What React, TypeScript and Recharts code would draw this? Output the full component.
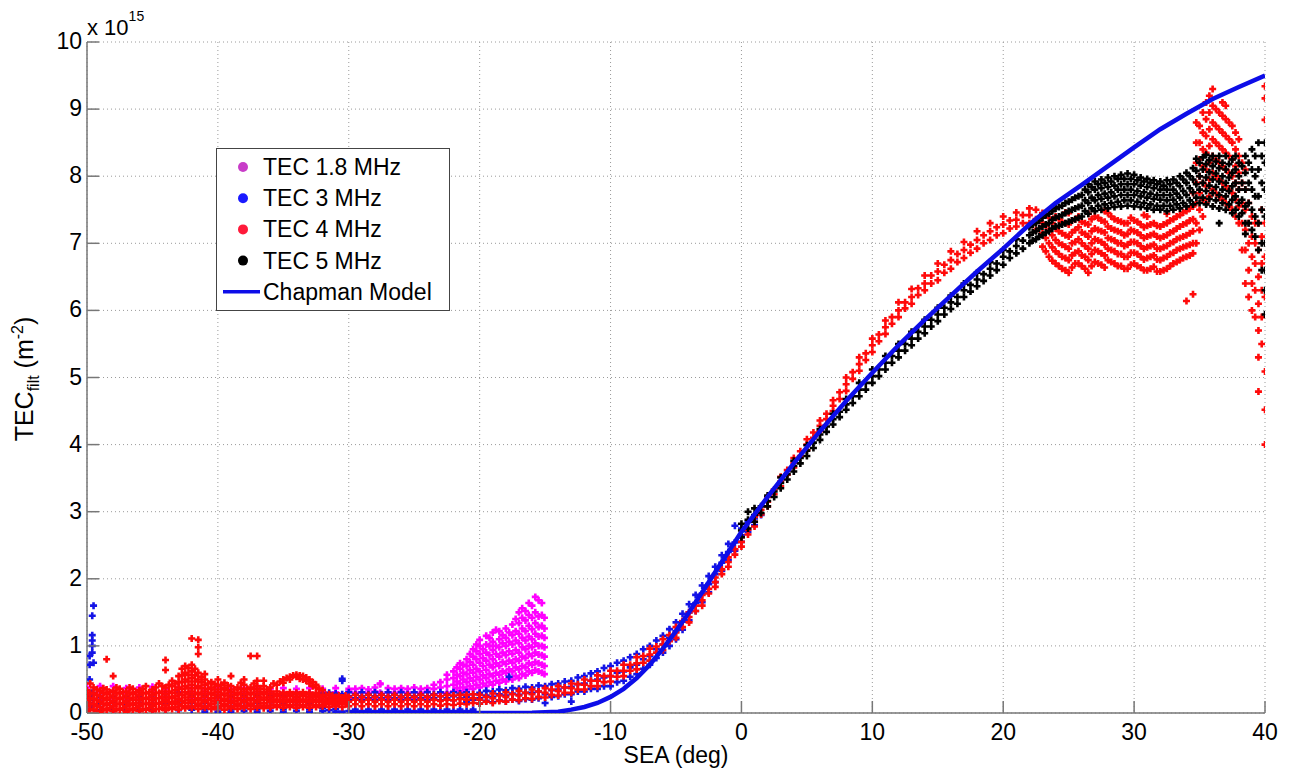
import React from 'react';
import { ScatterChart, Scatter, XAxis, YAxis, CartesianGrid, Legend, Customized } from 'recharts';

const FONT = '"Liberation Sans", Arial, Helvetica, sans-serif';

const xTicks = [-50, -40, -30, -20, -10, 0, 10, 20, 30, 40];
const yTicks = [0, 1, 2, 3, 4, 5, 6, 7, 8, 9, 10];

const seriesNames = ['TEC 1.8 MHz', 'TEC 3 MHz', 'TEC 4 MHz', 'TEC 5 MHz', 'Chapman Model'];
const seriesColors = ['#ff00ff', '#1414e6', '#ff0a0a', '#000000', '#0d0de8'];
const legendMarkColors = ['#c83cc8', '#1a1aff', '#ff1a3a', '#000000', '#0d0de8'];

const chapmanX = [-30, -25, -20, -18, -16, -14, -13, -12, -11, -10, -9, -8, -7, -6, -5, -4, -3, -2, -1, 0, 2, 4, 6, 8, 10, 12, 14, 16, 18, 20, 22, 24, 26, 28, 30, 32, 34, 36, 38, 40];
const chapmanY = [0, 0, 0, 0, 0.005, 0.02, 0.05, 0.09, 0.15, 0.24, 0.36, 0.52, 0.72, 0.96, 1.22, 1.5, 1.8, 2.1, 2.4, 2.7, 3.22, 3.72, 4.2, 4.65, 5.07, 5.48, 5.86, 6.22, 6.58, 6.92, 7.28, 7.6, 7.87, 8.15, 8.43, 8.7, 8.93, 9.15, 9.33, 9.5];

type Col = [number, number[]];

// TEC 1.8 MHz
const tec18Cols: Col[] = [
  [-50, [0.22, 0.31, 0.38]], [-49, [0.2, 0.32, 0.4]], [-48, [0.22, 0.33, 0.4]], [-47, [0.2, 0.3, 0.37]],
  [-46, [0.22, 0.31, 0.38]], [-45, [0.2, 0.32, 0.39]], [-44, [0.22, 0.3, 0.36]], [-43, [0.2, 0.31, 0.38]],
  [-42, [0.22, 0.3, 0.37]], [-41, [0.2, 0.3, 0.36]], [-40, [0.22, 0.31, 0.38]], [-39, [0.2, 0.3, 0.36]],
  [-38, [0.22, 0.3, 0.37]], [-37, [0.2, 0.31, 0.38]], [-36, [0.22, 0.3, 0.36]], [-35, [0.2, 0.3, 0.37]],
  [-34, [0.22, 0.31, 0.36]], [-33, [0.2, 0.3, 0.37]], [-32, [0.22, 0.31, 0.36]], [-31, [0.2, 0.31, 0.37]],
  [-30, [0.22, 0.32, 0.36]], [-29.5, [0.3, 0.36]], [-29, [0.22, 0.31, 0.37]], [-28.5, [0.3, 0.35]],
  [-28, [0.22, 0.32, 0.38]], [-27.6, [0.3, 0.43, 0.44]], [-27, [0.22, 0.31, 0.37]], [-26.5, [0.3, 0.36]],
  [-26, [0.22, 0.32, 0.37]], [-25.5, [0.3, 0.36]], [-25, [0.22, 0.31, 0.38]], [-24.5, [0.3, 0.36]],
  [-24, [0.22, 0.32, 0.37]], [-23.5, [0.28, 0.36, 0.42]],
  [-23, [0.3, 0.38, 0.46]], [-22.5, [0.3, 0.4, 0.5, 0.57]], [-22, [0.32, 0.42, 0.52, 0.62]],
  [-21.75, [0.37, 0.47, 0.57, 0.68]], [-21.5, [0.33, 0.44, 0.55, 0.66, 0.74]], [-21.25, [0.38, 0.5, 0.6, 0.72]],
  [-21, [0.35, 0.46, 0.58, 0.7, 0.8]], [-20.75, [0.4, 0.52, 0.64, 0.76, 0.88]],
  [-20.5, [0.36, 0.48, 0.6, 0.72, 0.84, 0.95]], [-20.25, [0.42, 0.54, 0.66, 0.8, 0.92, 1.02]],
  [-20, [0.38, 0.5, 0.62, 0.75, 0.88, 1.0, 1.09]], [-19.75, [0.44, 0.56, 0.7, 0.82, 0.95]],
  [-19.5, [0.4, 0.52, 0.64, 0.78, 0.9, 1.02, 1.15]], [-19.25, [0.46, 0.58, 0.72, 0.86, 1.0, 1.12]],
  [-19, [0.42, 0.55, 0.68, 0.8, 0.94, 1.06, 1.2]], [-18.75, [0.48, 0.6, 0.74, 0.88, 1.0, 1.24]],
  [-18.5, [0.45, 0.57, 0.7, 0.84, 0.98, 1.1, 1.22]], [-18.25, [0.5, 0.62, 0.76, 0.9, 1.04, 1.16]],
  [-18, [0.47, 0.6, 0.73, 0.86, 1.0, 1.12, 1.26]], [-17.75, [0.52, 0.65, 0.78, 0.92, 1.06, 1.2]],
  [-17.5, [0.5, 0.62, 0.75, 0.88, 1.02, 1.16, 1.32]], [-17.25, [0.55, 0.68, 0.8, 0.94, 1.08, 1.22, 1.4]],
  [-17, [0.52, 0.65, 0.78, 0.9, 1.04, 1.18, 1.34, 1.5]], [-16.75, [0.58, 0.7, 0.84, 0.98, 1.12, 1.26, 1.42, 1.56]],
  [-16.5, [0.56, 0.68, 0.82, 0.95, 1.08, 1.22, 1.38, 1.52]], [-16.25, [0.62, 0.74, 0.88, 1.0, 1.14, 1.3, 1.46, 1.64]],
  [-16, [0.6, 0.72, 0.85, 0.98, 1.1, 1.25, 1.42, 1.6]], [-15.75, [0.64, 0.76, 0.9, 1.04, 1.18, 1.34, 1.5, 1.73]],
  [-15.5, [0.62, 0.74, 0.87, 1.0, 1.14, 1.28, 1.44, 1.68]], [-15.25, [0.6, 0.72, 0.86, 1.0, 1.15, 1.3, 1.46, 1.64]],
  [-15.05, [0.58, 0.7, 0.84, 0.98, 1.12, 1.26, 1.42]],
];

// TEC 3 MHz
const tec3Cols: Col[] = [
  [-49.8, [0.05, 0.15, 0.25, 0.5, 0.72, 0.85]], [-49.6, [0.1, 0.3, 0.9, 1.0, 1.08, 1.16, 1.45]], [-49.5, [0.2, 0.75, 1.6]],
  [-49, [0.04, 0.14, 0.24]], [-48, [0.05, 0.15, 0.25]], [-47, [0.04, 0.14, 0.24]], [-46, [0.05, 0.15, 0.25]],
  [-45, [0.04, 0.14, 0.26]], [-44, [0.05, 0.15, 0.28]], [-43, [0.04, 0.14, 0.3]], [-42, [0.05, 0.15, 0.27]],
  [-41, [0.02, 0.06, 0.15, 0.25]], [-40, [0.02, 0.07, 0.16, 0.26]], [-39, [0.02, 0.06, 0.15, 0.25]],
  [-38, [0.03, 0.07, 0.16, 0.26]], [-37, [0.02, 0.06, 0.15, 0.27]], [-36, [0.03, 0.07, 0.16, 0.26]],
  [-35, [0.02, 0.06, 0.15, 0.27]], [-34, [0.03, 0.07, 0.16, 0.28]], [-33, [0.02, 0.06, 0.15, 0.28]],
  [-32, [0.03, 0.07, 0.17, 0.29]], [-31.5, [0.04, 0.22, 0.3]], [-31, [0.02, 0.06, 0.2, 0.29]],
  [-30.5, [0.02, 0.2, 0.28, 0.48, 0.51]],
  [-30, [0.03, 0.19, 0.25, 0.31]], [-29.5, [0.05, 0.22, 0.28]], [-29, [0.03, 0.19, 0.25, 0.31]], [-28.5, [0.05, 0.22, 0.28]],
  [-28, [0.03, 0.19, 0.25, 0.31]], [-27.5, [0.05, 0.22, 0.28]], [-27, [0.03, 0.19, 0.25, 0.31]], [-26.5, [0.05, 0.22, 0.28]],
  [-26, [0.03, 0.19, 0.25, 0.31]], [-25.5, [0.05, 0.22, 0.28]], [-25, [0.03, 0.19, 0.25, 0.31]], [-24.5, [0.05, 0.22, 0.28]],
  [-24, [0.03, 0.19, 0.25, 0.31]], [-23.5, [0.05, 0.22, 0.28]], [-23, [0.03, 0.19, 0.25, 0.31]], [-22.5, [0.05, 0.22, 0.28]],
  [-22, [0.03, 0.19, 0.25, 0.31]], [-21.5, [0.05, 0.22, 0.29]], [-21, [0.03, 0.17, 0.24, 0.31]], [-20.5, [0.05, 0.2, 0.28]],
  [-20, [0.14, 0.22, 0.3]], [-19.5, [0.18, 0.26, 0.33]], [-19, [0.16, 0.24, 0.32]], [-18.5, [0.19, 0.28, 0.35]],
  [-18, [0.17, 0.26, 0.34]], [-17.75, [0.54]], [-17.5, [0.2, 0.29, 0.37]], [-17, [0.18, 0.27, 0.36]],
  [-16.5, [0.21, 0.3, 0.39]], [-16, [0.2, 0.3, 0.38]], [-15.5, [0.22, 0.32, 0.41]], [-15, [0.15, 0.28, 0.4]],
  [-14.5, [0.24, 0.34, 0.43]], [-14, [0.25, 0.35, 0.44]], [-13.5, [0.28, 0.38, 0.47]], [-13, [0.17, 0.28, 0.39, 0.48]],
  [-12.5, [0.32, 0.43, 0.53]], [-12, [0.32, 0.44, 0.55]], [-11.5, [0.36, 0.48, 0.59]], [-11, [0.36, 0.5, 0.62]],
  [-10.5, [0.4, 0.53, 0.67]], [-10, [0.4, 0.55, 0.7]], [-9.5, [0.46, 0.6, 0.75]], [-9, [0.48, 0.62, 0.78]],
  [-8.5, [0.54, 0.68, 0.83]], [-8, [0.58, 0.72, 0.88]], [-7.5, [0.66, 0.8, 0.95]], [-7, [0.72, 0.85, 1.0]],
  [-6.5, [0.82, 0.95, 1.08]], [-6, [0.9, 1.02, 1.15]], [-5.5, [1.0, 1.12, 1.25]], [-5, [1.1, 1.22, 1.35]],
  [-4.5, [1.24, 1.36, 1.48]], [-4, [1.38, 1.5, 1.62]], [-3.5, [1.52, 1.64, 1.76]], [-3, [1.65, 1.78, 1.9]],
  [-2.5, [1.8, 1.92, 2.04]], [-2, [1.95, 2.07, 2.18]], [-1.5, [2.12, 2.24, 2.35]], [-1, [2.28, 2.4, 2.52]],
  [-0.5, [2.42, 2.54, 2.79]], [0, [2.55, 2.65, 2.75]], [0.5, [2.7, 2.85]], [1, [2.8, 2.9]], [1.5, [2.95]],
];

// TEC 4 MHz
const tec4Cols: Col[] = [
  [-50, [0.02, 0.1, 0.18, 0.26, 0.34]], [-49.75, [0.06, 0.14, 0.22, 0.3, 0.44]], [-49.5, [0.05, 0.13, 0.21, 0.29, 0.38]],
  [-49.25, [0.03, 0.11, 0.19, 0.27, 0.35]], [-49, [0.02, 0.09, 0.17, 0.25, 0.33]], [-48.75, [0.06, 0.14, 0.22, 0.3, 0.37]],
  [-48.5, [0.04, 0.12, 0.2, 0.28, 0.35, 0.8]], [-48.25, [0.07, 0.15, 0.23, 0.31]],
  [-48, [0.03, 0.1, 0.18, 0.26, 0.33, 0.55]], [-47.75, [0.06, 0.14, 0.22, 0.3, 0.38]], [-47.5, [0.05, 0.13, 0.21, 0.29, 0.36]],
  [-47.25, [0.07, 0.15, 0.23, 0.31]], [-47, [0.02, 0.1, 0.18, 0.26, 0.32]], [-46.75, [0.06, 0.14, 0.22, 0.3, 0.38]],
  [-46.5, [0.04, 0.12, 0.2, 0.28, 0.36]], [-46.25, [0.07, 0.15, 0.23, 0.31]],
  [-46, [0.03, 0.11, 0.19, 0.27, 0.34]], [-45.75, [0.06, 0.14, 0.22, 0.3, 0.36]], [-45.5, [0.05, 0.13, 0.21, 0.29, 0.4]],
  [-45.25, [0.07, 0.15, 0.23, 0.31]], [-45, [0.03, 0.11, 0.19, 0.27, 0.35]], [-44.75, [0.06, 0.14, 0.22, 0.3, 0.38]],
  [-44.5, [0.06, 0.14, 0.22, 0.3, 0.44]], [-44.25, [0.08, 0.16, 0.24, 0.32, 0.4]],
  [-44, [0.04, 0.12, 0.2, 0.28, 0.38, 0.64, 0.79]], [-43.75, [0.08, 0.16, 0.24, 0.32, 0.42]], [-43.5, [0.06, 0.14, 0.22, 0.3, 0.4, 0.48]],
  [-43.25, [0.09, 0.17, 0.25, 0.34, 0.44]], [-43, [0.05, 0.13, 0.21, 0.29, 0.38, 0.46, 0.55]],
  [-42.75, [0.1, 0.18, 0.27, 0.36, 0.46, 0.56, 0.66]], [-42.5, [0.07, 0.15, 0.23, 0.31, 0.4, 0.5, 0.6, 0.7]],
  [-42.25, [0.1, 0.19, 0.28, 0.37, 0.47, 0.57, 0.67]],
  [-42, [0.08, 0.16, 0.24, 0.32, 0.42, 0.52, 0.62, 0.72, 1.11]], [-41.75, [0.1, 0.19, 0.28, 0.37, 0.47, 0.56, 0.66]],
  [-41.5, [0.06, 0.14, 0.22, 0.3, 0.4, 0.5, 0.6, 0.88, 0.98, 1.09]], [-41.25, [0.1, 0.19, 0.28, 0.37, 0.46, 0.54]],
  [-41, [0.08, 0.16, 0.24, 0.32, 0.42, 0.5, 0.58]], [-40.75, [0.1, 0.19, 0.28, 0.36, 0.44]], [-40.5, [0.06, 0.14, 0.22, 0.3, 0.38, 0.46]],
  [-40.25, [0.09, 0.18, 0.27, 0.35, 0.43]],
  [-40, [0.07, 0.15, 0.23, 0.31, 0.4, 0.5]], [-39.75, [0.1, 0.18, 0.27, 0.35, 0.42]], [-39.5, [0.05, 0.13, 0.21, 0.29, 0.37, 0.45]],
  [-39.25, [0.1, 0.18, 0.26, 0.34, 0.41]],
  [-39, [0.07, 0.15, 0.23, 0.31, 0.4, 0.55]], [-38.75, [0.1, 0.18, 0.27, 0.35]], [-38.5, [0.06, 0.14, 0.22, 0.3, 0.38]],
  [-38.25, [0.1, 0.19, 0.28, 0.36, 0.45]],
  [-38, [0.08, 0.16, 0.24, 0.32, 0.42, 0.5]], [-37.75, [0.11, 0.19, 0.28, 0.36]], [-37.5, [0.06, 0.14, 0.22, 0.3, 0.38, 0.85]],
  [-37.25, [0.1, 0.19, 0.28, 0.36, 0.44]],
  [-37, [0.08, 0.16, 0.24, 0.32, 0.4, 0.48, 0.85]], [-36.75, [0.11, 0.2, 0.28, 0.36]], [-36.5, [0.07, 0.15, 0.23, 0.31, 0.4, 0.48]],
  [-36.25, [0.11, 0.2, 0.28, 0.35]],
  [-36, [0.08, 0.16, 0.24, 0.32, 0.38]], [-35.75, [0.12, 0.2, 0.28, 0.44]], [-35.5, [0.09, 0.17, 0.25, 0.32, 0.42]],
  [-35.25, [0.12, 0.2, 0.28, 0.47]],
  [-35, [0.08, 0.16, 0.24, 0.3, 0.45, 0.5]], [-34.75, [0.12, 0.2, 0.28, 0.52]], [-34.5, [0.09, 0.17, 0.25, 0.31, 0.5, 0.54]],
  [-34.25, [0.12, 0.2, 0.28, 0.56]],
  [-34, [0.08, 0.16, 0.24, 0.3, 0.54, 0.57]], [-33.75, [0.12, 0.2, 0.28, 0.51, 0.56]], [-33.5, [0.09, 0.17, 0.25, 0.31, 0.5, 0.55]],
  [-33.25, [0.12, 0.2, 0.28, 0.48, 0.53]],
  [-33, [0.08, 0.16, 0.24, 0.3, 0.44, 0.5]], [-32.75, [0.12, 0.2, 0.27, 0.4, 0.46]], [-32.5, [0.09, 0.17, 0.24, 0.3, 0.38, 0.42]],
  [-32.25, [0.12, 0.2, 0.27, 0.36]],
  [-32, [0.1, 0.17, 0.24, 0.34]], [-31.75, [0.13, 0.2, 0.27]], [-31.5, [0.09, 0.16, 0.23, 0.28]], [-31.25, [0.13, 0.2, 0.26]],
  [-31, [0.1, 0.17, 0.24]], [-30.75, [0.13, 0.2, 0.26]], [-30.5, [0.09, 0.16, 0.23]], [-30.25, [0.13, 0.2, 0.26]],
  [-30, [0.1, 0.17, 0.24]], [-29.5, [0.13, 0.2, 0.27]], [-29, [0.1, 0.17, 0.24]], [-28.5, [0.13, 0.2, 0.27]],
  [-28, [0.1, 0.17, 0.24]], [-27.5, [0.13, 0.2, 0.27]], [-27, [0.1, 0.17, 0.24]], [-26.5, [0.13, 0.2, 0.27]],
  [-26, [0.1, 0.17, 0.24]], [-25.5, [0.13, 0.2, 0.27]], [-25, [0.1, 0.17, 0.24]], [-24.5, [0.13, 0.2, 0.27]],
  [-24, [0.1, 0.17, 0.24]], [-23.5, [0.13, 0.2, 0.27]], [-23, [0.11, 0.18, 0.25]], [-22.5, [0.13, 0.2, 0.27]],
  [-22, [0.12, 0.19, 0.26]], [-21.5, [0.14, 0.21, 0.27]], [-21, [0.13, 0.2, 0.27]], [-20.5, [0.15, 0.22, 0.28]],
  [-20, [0.14, 0.2, 0.27]], [-19.5, [0.17, 0.24]], [-19, [0.15, 0.22, 0.29]], [-18.5, [0.18, 0.26]],
  [-18, [0.17, 0.24, 0.31]], [-17.5, [0.2, 0.28]], [-17, [0.19, 0.26, 0.33]], [-16.5, [0.22, 0.3]],
  [-16, [0.21, 0.28, 0.35]], [-15.5, [0.24, 0.32]], [-15, [0.23, 0.3, 0.37]], [-14.5, [0.27, 0.35]],
  [-14, [0.26, 0.33, 0.4]], [-13.5, [0.3, 0.38]], [-13, [0.3, 0.37, 0.44]], [-12.5, [0.35, 0.43]],
  [-12, [0.35, 0.42, 0.5]], [-11.5, [0.4, 0.48]], [-11, [0.4, 0.48, 0.56]], [-10.5, [0.46, 0.55]],
  [-10, [0.47, 0.55, 0.63]], [-9.5, [0.54, 0.63]], [-9, [0.55, 0.63, 0.72]], [-8.5, [0.63, 0.72]],
  [-8, [0.65, 0.74, 0.83]], [-7.5, [0.75, 0.85]], [-7, [0.78, 0.87, 0.96]], [-6.5, [0.9, 0.99]],
  [-6, [0.94, 1.02, 1.1]], [-5.5, [1.07, 1.16]], [-5, [1.12, 1.2, 1.28]], [-4.5, [1.28, 1.37]],
  [-4, [1.35, 1.43, 1.5]], [-3.5, [1.52, 1.6]], [-3, [1.6, 1.68, 1.76]], [-2.5, [1.78, 1.85]],
  [-2, [1.88, 1.95, 2.02]], [-1.5, [2.07, 2.14]], [-1, [2.18, 2.25, 2.32]], [-0.5, [2.36, 2.44]],
  [0, [2.48, 2.55, 2.62]], [0.5, [2.66, 2.73]], [1, [2.78, 2.85, 2.92]], [1.5, [2.96, 3.03]],
  [2, [3.08, 3.15, 3.22]], [2.5, [3.26, 3.33]], [3, [3.38, 3.45, 3.52]], [3.5, [3.55, 3.62]],
  [4, [3.66, 3.73, 3.8]], [4.5, [3.83, 3.9]], [5, [3.92, 4.0, 4.08]], [5.5, [4.1, 4.18]],
  [6, [4.2, 4.28, 4.36]], [6.5, [4.38, 4.46]], [7, [4.5, 4.58, 4.66]], [7.5, [4.68, 4.78]],
  [8, [4.8, 4.9, 5.0]], [8.5, [4.98, 5.08]], [9, [5.1, 5.2, 5.3]], [9.5, [5.26, 5.36]],
  [10, [5.38, 5.48, 5.58]], [10.5, [5.54, 5.64]], [11, [5.65, 5.75, 5.85]], [11.5, [5.8, 5.9]],
  [12, [5.9, 6.0, 6.12]], [12.5, [6.03, 6.12]], [13, [6.1, 6.2, 6.32]], [13.5, [6.23, 6.33]],
  [14, [6.3, 6.4, 6.52]], [14.5, [6.4, 6.52]], [15, [6.45, 6.58, 6.7]], [15.5, [6.56, 6.68]],
  [16, [6.62, 6.75, 6.88]], [16.5, [6.72, 6.84]], [17, [6.78, 6.9, 7.02]], [17.5, [6.86, 6.98]],
  [18, [6.92, 7.05, 7.18]], [18.5, [7.0, 7.12]], [19, [7.05, 7.18, 7.3]], [19.5, [7.12, 7.24]],
  [20, [7.15, 7.28, 7.4]], [20.5, [7.22, 7.34]], [21, [7.25, 7.35, 7.46]], [21.5, [7.3, 7.42]],
  [22, [7.3, 7.42, 7.52]], [22.5, [7.2, 7.36, 7.5]],
  [23, [6.95, 7.15, 7.3, 7.45]], [23.25, [6.88, 7.08, 7.26, 7.42]], [23.5, [6.8, 7.0, 7.2, 7.38]],
  [23.75, [6.74, 6.94, 7.12, 7.3]], [24, [6.7, 6.88, 7.05, 7.22, 7.4]], [24.25, [6.66, 6.84, 7.0, 7.18, 7.36]],
  [24.5, [6.62, 6.8, 6.98, 7.15, 7.32]], [24.75, [6.6, 6.78, 6.95, 7.12, 7.3, 7.46]],
  [25, [6.56, 6.75, 6.92, 7.1, 7.28, 7.45]], [25.25, [6.64, 6.82, 7.0, 7.16, 7.34]],
  [25.5, [6.7, 6.86, 7.02, 7.2, 7.36]], [25.75, [6.7, 6.88, 7.06, 7.24, 7.4]],
  [26, [6.66, 6.82, 7.0, 7.16, 7.32]], [26.25, [6.62, 6.8, 6.96, 7.14, 7.3]],
  [26.5, [6.56, 6.75, 6.92, 7.1, 7.28, 7.44]], [26.75, [6.66, 6.84, 7.0, 7.18, 7.36]],
  [27, [6.72, 6.9, 7.06, 7.22, 7.4]], [27.25, [6.7, 6.88, 7.04, 7.2, 7.38]],
  [27.5, [6.68, 6.85, 7.02, 7.18, 7.34]], [27.75, [6.64, 6.82, 6.98, 7.16, 7.32, 7.48]],
  [28, [6.75, 6.92, 7.08, 7.25, 7.45]], [28.25, [6.72, 6.9, 7.06, 7.22, 7.4]],
  [28.5, [6.7, 6.88, 7.04, 7.2, 7.36]], [28.75, [6.66, 6.84, 7.0, 7.18, 7.34]],
  [29, [6.66, 6.84, 7.0, 7.16, 7.32]], [29.25, [6.62, 6.8, 6.96, 7.12, 7.3]],
  [29.5, [6.62, 6.8, 6.98, 7.14, 7.3]], [29.75, [6.68, 6.86, 7.02, 7.2, 7.38]],
  [30, [6.7, 6.86, 7.02, 7.18, 7.34]], [30.25, [6.66, 6.84, 7.0, 7.16, 7.32]],
  [30.5, [6.64, 6.8, 6.96, 7.12, 7.28]], [30.75, [6.6, 6.76, 6.92, 7.08, 7.24, 7.42]],
  [31, [6.6, 6.78, 6.94, 7.1, 7.26, 7.4]], [31.25, [6.62, 6.8, 6.96, 7.12, 7.28]],
  [31.5, [6.65, 6.82, 6.98, 7.14, 7.3]], [31.75, [6.58, 6.76, 6.92, 7.1, 7.26]],
  [32, [6.58, 6.75, 6.92, 7.08, 7.25]], [32.25, [6.6, 6.78, 6.94, 7.1, 7.28]],
  [32.5, [6.62, 6.8, 6.96, 7.12, 7.3, 7.44]], [32.75, [6.66, 6.84, 7.0, 7.16, 7.34]],
  [33, [6.7, 6.86, 7.02, 7.18, 7.36]], [33.25, [6.72, 6.9, 7.06, 7.22, 7.4]],
  [33.5, [6.75, 6.92, 7.08, 7.25, 7.42]], [33.75, [6.78, 6.94, 7.1, 7.28, 7.46]],
  [34, [6.14, 6.8, 6.96, 7.12, 7.3, 7.48]], [34.25, [6.82, 6.98, 7.15, 7.34, 7.52]],
  [34.5, [6.24, 6.85, 7.0, 7.18, 7.36, 7.55, 7.75]], [34.75, [7.0, 7.3, 7.6, 7.9, 8.2, 8.5, 8.8]],
  [35, [7.2, 7.5, 7.75, 8.0, 8.25, 8.5, 8.75]], [35.25, [7.4, 7.65, 7.9, 8.15, 8.4, 8.65, 8.95]],
  [35.5, [7.6, 7.85, 8.1, 8.35, 8.6, 8.85, 9.1]], [35.75, [7.7, 7.95, 8.2, 8.45, 8.7, 8.95, 9.2]],
  [36, [7.8, 8.05, 8.3, 8.55, 8.8, 9.05, 9.3]], [36.25, [7.75, 8.0, 8.25, 8.5, 8.75, 9.0]],
  [36.5, [7.7, 7.95, 8.2, 8.45, 8.7, 8.95]], [36.75, [7.65, 7.9, 8.15, 8.4, 8.65, 8.9, 9.1]],
  [37, [7.6, 7.85, 8.1, 8.35, 8.6, 8.85, 9.05]], [37.25, [7.55, 7.8, 8.05, 8.3, 8.55, 8.8]],
  [37.5, [7.5, 7.75, 8.0, 8.25, 8.5, 8.75]], [37.75, [7.4, 7.65, 7.9, 8.15, 8.4, 8.65]],
  [38, [7.3, 7.55, 7.8, 8.05, 8.3, 8.55]], [38.25, [6.9, 7.3, 7.6, 7.9, 8.2]],
  [38.5, [6.4, 6.9, 7.2, 7.5, 7.8, 8.1]], [38.75, [6.2, 6.6, 7.0, 7.3, 7.6]],
  [39, [6.0, 6.4, 6.8, 7.1, 7.4]], [39.25, [5.9, 6.3, 6.7, 7.0, 7.3]],
  [39.5, [4.79, 5.3, 5.7, 6.1, 6.5, 6.9, 7.3]], [39.75, [5.5, 5.9, 6.3, 6.7, 7.1, 7.5]],
  [40, [4.0, 4.52, 5.09, 6.2, 6.8, 7.3, 8.84, 9.16, 9.34]],
];

// TEC 5 MHz
const tec5Cols: Col[] = [
  [0, [2.62, 2.72, 2.82]], [0.5, [2.75, 2.88, 3.0]], [1, [2.85, 2.95, 3.05]], [1.5, [2.98, 3.08]],
  [2, [3.08, 3.16, 3.24]], [2.5, [3.22, 3.3]], [3, [3.35, 3.43, 3.51]], [3.5, [3.48, 3.56]],
  [4, [3.6, 3.68, 3.76]], [4.5, [3.72, 3.8]], [5, [3.83, 3.91, 3.99]], [5.5, [3.95, 4.03]],
  [6, [4.07, 4.15, 4.23]], [6.5, [4.19, 4.27]], [7, [4.3, 4.38, 4.46]], [7.5, [4.41, 4.49]],
  [8, [4.52, 4.6, 4.68]], [8.5, [4.62, 4.72]], [9, [4.72, 4.82, 4.92]], [9.5, [4.82, 4.92]],
  [10, [4.92, 5.02, 5.12]], [10.5, [5.02, 5.12]], [11, [5.12, 5.22, 5.32]], [11.5, [5.22, 5.32]],
  [12, [5.3, 5.4, 5.5]], [12.5, [5.4, 5.5]], [13, [5.48, 5.58, 5.68]], [13.5, [5.58, 5.68]],
  [14, [5.66, 5.76, 5.86]], [14.5, [5.76, 5.86]], [15, [5.84, 5.94, 6.04]], [15.5, [5.94, 6.04]],
  [16, [6.02, 6.12, 6.22]], [16.5, [6.1, 6.2]], [17, [6.2, 6.3, 6.4]], [17.5, [6.28, 6.38]],
  [18, [6.36, 6.46, 6.56]], [18.5, [6.44, 6.54]], [19, [6.52, 6.62, 6.72]], [19.5, [6.6, 6.7]],
  [20, [6.68, 6.8, 6.9]], [20.5, [6.78, 6.88]], [21, [6.85, 6.96, 7.06]], [21.5, [6.92, 7.04]],
  [22, [7.0, 7.12, 7.24]], [22.25, [7.04, 7.16, 7.28]], [22.5, [7.06, 7.18, 7.3]], [22.75, [7.1, 7.22, 7.34]],
  [23, [7.12, 7.25, 7.38]], [23.25, [7.16, 7.28, 7.42]], [23.5, [7.18, 7.3, 7.44]], [23.75, [7.22, 7.35, 7.48]],
  [24, [7.25, 7.38, 7.52]], [24.25, [7.26, 7.4, 7.54]], [24.5, [7.28, 7.42, 7.56]], [24.75, [7.3, 7.45, 7.6]],
  [25, [7.32, 7.48, 7.62]], [25.25, [7.34, 7.5, 7.65]], [25.5, [7.36, 7.52, 7.68]], [25.75, [7.38, 7.54, 7.7]],
  [26, [7.4, 7.56, 7.72]], [26.25, [7.48, 7.64, 7.8]], [26.5, [7.44, 7.6, 7.76, 7.88]], [26.75, [7.52, 7.68, 7.84]],
  [27, [7.48, 7.64, 7.8, 7.92]], [27.25, [7.56, 7.72, 7.88]], [27.5, [7.5, 7.66, 7.82, 7.95]], [27.75, [7.58, 7.74, 7.9]],
  [28, [7.52, 7.68, 7.84, 7.98]], [28.25, [7.6, 7.76, 7.92]], [28.5, [7.54, 7.7, 7.86, 8.0]], [28.75, [7.62, 7.8, 7.96]],
  [29, [7.55, 7.72, 7.88, 8.02]], [29.25, [7.64, 7.8, 7.96]], [29.5, [7.56, 7.72, 7.88, 8.04]], [29.75, [7.64, 7.8, 7.96]],
  [30, [7.55, 7.72, 7.88, 8.02]], [30.25, [7.62, 7.78, 7.94]], [30.5, [7.54, 7.7, 7.86, 7.98]], [30.75, [7.6, 7.76, 7.92]],
  [31, [7.52, 7.68, 7.84, 7.96]], [31.25, [7.58, 7.74, 7.9]], [31.5, [7.5, 7.66, 7.82, 7.94]], [31.75, [7.56, 7.72, 7.88]],
  [32, [7.5, 7.65, 7.8, 7.92]], [32.25, [7.56, 7.72, 7.86]], [32.5, [7.48, 7.64, 7.8, 7.94]], [32.75, [7.56, 7.72, 7.88]],
  [33, [7.5, 7.65, 7.8, 7.95]], [33.25, [7.58, 7.74, 7.9]], [33.5, [7.52, 7.68, 7.85, 8.0]], [33.75, [7.6, 7.78, 7.95]],
  [34, [7.55, 7.72, 7.9, 8.05]], [34.25, [7.64, 7.82, 8.0]], [34.5, [7.58, 7.76, 7.95, 8.12]], [34.75, [7.68, 7.88, 8.08, 8.26]],
  [35, [7.6, 7.8, 8.0, 8.2]], [35.25, [7.68, 7.9, 8.1, 8.28]], [35.5, [7.58, 7.78, 7.98, 8.18, 8.32]],
  [35.75, [7.66, 7.86, 8.06, 8.24]], [36, [7.55, 7.75, 7.95, 8.15, 8.3]], [36.25, [7.64, 7.84, 8.04, 8.22]],
  [36.5, [7.3, 7.52, 7.72, 7.92, 8.12, 8.3]], [36.75, [7.6, 7.8, 8.0, 8.2]], [37, [7.5, 7.7, 7.9, 8.1, 8.3]],
  [37.25, [7.58, 7.78, 7.98, 8.18]], [37.5, [7.45, 7.65, 7.85, 8.05, 8.25]], [37.75, [7.5, 7.7, 7.9, 8.1, 8.3]],
  [38, [7.4, 7.6, 7.8, 8.0, 8.2]], [38.25, [7.45, 7.65, 7.9, 8.15]], [38.5, [7.14, 7.3, 7.55, 7.8, 8.05, 8.3]],
  [38.75, [7.3, 7.6, 7.9, 8.2]], [39, [7.2, 7.5, 7.8, 8.1, 8.4]], [39.25, [7.1, 7.4, 7.7, 8.0, 8.3]],
  [39.5, [6.9, 7.3, 7.7, 8.1, 8.5]], [39.75, [6.6, 7.0, 7.5, 7.9, 8.3]],
  [40, [5.94, 6.3, 6.6, 7.0, 7.4, 7.8, 8.2, 8.5]],
];

const toPoints = (cols: Col[]) => cols.flatMap(([x, ys]) => ys.map((y) => ({ x, y })));
const tec18 = toPoints(tec18Cols);
const tec3 = toPoints(tec3Cols);
const tec4 = toPoints(tec4Cols);
const tec5 = toPoints(tec5Cols);
const chapman = chapmanX.map((x, i) => ({ x, y: chapmanY[i] }));

const makePlus = (color: string) => (props: any) => {
  const { cx, cy } = props;
  if (cx == null || cy == null || isNaN(cx) || isNaN(cy)) return <g />;
  return <path d={`M${cx - 3.5},${cy}h7M${cx},${cy - 3.5}v7`} stroke={color} strokeWidth={2.6} fill="none" />;
};

const AXIS_COLOR = '#777777';

const XTick = (props: any) => {
  const { x, y, payload } = props;
  return (
    <g>
      <line x1={x} y1={y} x2={x} y2={y - 12} stroke={AXIS_COLOR} strokeWidth={1.5} />
      <text x={x} y={y + 27} textAnchor="middle" fontSize={23} fontFamily={FONT} fill="#000">
        {payload.value}
      </text>
    </g>
  );
};

const YTick = (props: any) => {
  const { x, y, payload } = props;
  return (
    <g>
      <line x1={x} y1={y} x2={x + 12} y2={y} stroke={AXIS_COLOR} strokeWidth={1.5} />
      <text x={x - 5} y={y + 7} textAnchor="end" fontSize={23} fontFamily={FONT} fill="#000">
        {payload.value}
      </text>
    </g>
  );
};

const LegendBox = () => (
  <svg width={234} height={163} style={{ display: 'block' }}>
    <rect x={0.5} y={0.5} width={233} height={162} fill="#ffffff" stroke="#444444" strokeWidth={1} />
    {seriesNames.map((name, i) => {
      const cy = 19 + i * 31.2;
      return (
        <g key={name}>
          {i < 4 ? (
            <circle cx={27} cy={cy} r={5} fill={legendMarkColors[i]} />
          ) : (
            <line x1={7} y1={cy} x2={44} y2={cy} stroke={legendMarkColors[i]} strokeWidth={3.5} />
          )}
          <text x={47} y={cy + 8} fontSize={23} fontFamily={FONT} fill="#000">
            {name}
          </text>
        </g>
      );
    })}
  </svg>
);

const Titles = () => (
  <g fontFamily={FONT} fill="#000">
    <text x={87} y={35} fontSize={22}>
      x 10
      <tspan fontSize={14} dy={-14}>15</tspan>
    </text>
    <text x={676} y={763} fontSize={23} textAnchor="middle">SEA (deg)</text>
    <text transform="translate(33,379) rotate(-90)" fontSize={25} textAnchor="middle">
      TEC
      <tspan fontSize={16} dy={6}>filt</tspan>
      <tspan dy={-6}>{' (m'}</tspan>
      <tspan fontSize={16} dy={-10}>-2</tspan>
      <tspan dy={10}>)</tspan>
    </text>
  </g>
);

export default function App() {
  return (
    <div style={{ position: 'absolute', left: 0, top: 0, width: 1292, height: 775, background: '#fff' }}>
      <ScatterChart width={1292} height={775} margin={{ top: 42, right: 27, bottom: 0, left: 0 }}>
        <CartesianGrid stroke="#9a9a9a" strokeDasharray="1 3" />
        <XAxis
          type="number"
          dataKey="x"
          domain={[-50, 40]}
          ticks={xTicks}
          interval={0}
          allowDataOverflow
          height={62}
          tickLine={false}
          tickSize={0}
          tickMargin={0}
          axisLine={{ stroke: AXIS_COLOR, strokeWidth: 1.5 }}
          tick={XTick}
        />
        <YAxis
          type="number"
          dataKey="y"
          domain={[0, 10]}
          ticks={yTicks}
          interval={0}
          allowDataOverflow
          width={87}
          tickLine={false}
          tickSize={0}
          tickMargin={0}
          axisLine={{ stroke: AXIS_COLOR, strokeWidth: 1.5 }}
          tick={YTick}
        />
        <Scatter name={seriesNames[0]} data={tec18} fill={seriesColors[0]} shape={makePlus(seriesColors[0])} isAnimationActive={false} />
        <Scatter name={seriesNames[1]} data={tec3} fill={seriesColors[1]} shape={makePlus(seriesColors[1])} isAnimationActive={false} />
        <Scatter name={seriesNames[2]} data={tec4} fill={seriesColors[2]} shape={makePlus(seriesColors[2])} isAnimationActive={false} />
        <Scatter name={seriesNames[3]} data={tec5} fill={seriesColors[3]} shape={makePlus(seriesColors[3])} isAnimationActive={false} />
        <Scatter
          name={seriesNames[4]}
          data={chapman}
          fill={seriesColors[4]}
          line={{ stroke: seriesColors[4], strokeWidth: 4.5 }}
          lineJointType="linear"
          shape={() => <g />}
          isAnimationActive={false}
        />
        <Legend
          content={LegendBox}
          layout="horizontal"
          verticalAlign="middle"
          align="center"
          wrapperStyle={{ left: 216, top: 148, width: 234, height: 163 }}
        />
        <Customized component={Titles} />
      </ScatterChart>
    </div>
  );
}
